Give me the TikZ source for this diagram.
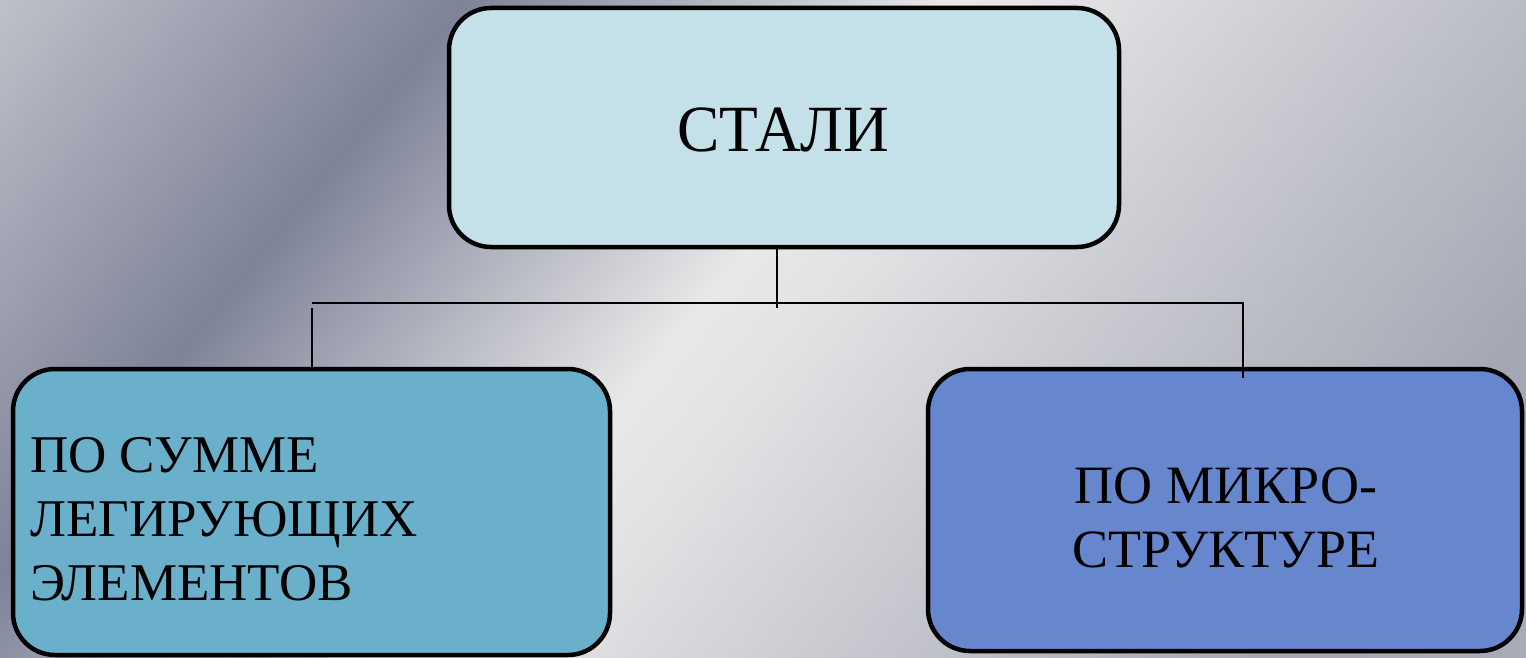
\documentclass[tikz,border=0pt]{standalone}
\usepackage{fontspec}
\setmainfont{Liberation Serif}
\definecolor{bgA}{HTML}{BEC0C8}
\definecolor{bgB}{HTML}{7E8398}
\definecolor{bgC}{HTML}{E8E8E8}
\definecolor{bgF}{HTML}{E2E2E4}
\definecolor{bgD}{HTML}{A4A7B3}
\definecolor{bgE}{HTML}{A8ABB5}
\definecolor{topfill}{HTML}{C4E0E8}
\definecolor{leftfill}{HTML}{6AB0CB}
\definecolor{rightfill}{HTML}{6686CE}
\pgfdeclarehorizontalshading{bgmetal}{100bp}{color(0bp)=(bgA); color(25bp)=(bgA); color(36.25bp)=(bgB); color(48bp)=(bgC); color(51bp)=(bgF); color(61bp)=(bgA); color(68.75bp)=(bgD); color(75bp)=(bgE); color(100bp)=(bgE)}
\tikzset{
  boxnode/.style={draw=black, line width=4.5pt, rounded corners=42pt, rectangle, inner sep=0pt},
  linkline/.style={draw=black, line width=1.6pt},
  txtnode/.style={inner sep=0pt, text=black}
}
\begin{document}
\begin{tikzpicture}[x=1pt,y=-1pt]
\useasboundingbox (0,0) rectangle (1526,658);
\begin{scope}
\clip (0,0) rectangle (1526,658);
\shade[shading=bgmetal, shading angle=-39] (-37,-471) rectangle (1563,1129);
\end{scope}
% boxes
\node[boxnode, fill=topfill, minimum width=670pt, minimum height=239pt] (stali) at (784,127.5) {};
\node[boxnode, fill=leftfill, minimum width=597pt, minimum height=286pt] (summa) at (311.5,512) {};
\node[boxnode, fill=rightfill, minimum width=594pt, minimum height=282pt] (micro) at (1225,510) {};
% texts
\node[txtnode, anchor=base, font=\fontsize{66}{79}\selectfont] (stalitxt) at (783.5,152) {\scalebox{0.96}[1]{СТАЛИ}};
\node[txtnode, anchor=base west, align=left, font=\fontsize{53}{64}\selectfont] (summatxt) at (30,600) {ПО СУММЕ\\ЛЕГИРУЮЩИХ\\ЭЛЕМЕНТОВ};
\node[txtnode, anchor=base, align=center, font=\fontsize{54}{64}\selectfont] (microtxt) at (1226,567) {ПО МИКРО-\\СТРУКТУРЕ};
% connectors
\coordinate (jn) at (777,308);
\coordinate (hl) at (312,303);
\coordinate (hr) at (1243,303);
\coordinate (ls) at (312,308);
\coordinate (re) at (1243,378);
\draw[linkline] (stali.south -| jn) -- (jn);
\draw[linkline] (hl) -- (hr) -- (re);
\draw[linkline] (ls) -- (ls |- summa.north);
\end{tikzpicture}
\end{document}
